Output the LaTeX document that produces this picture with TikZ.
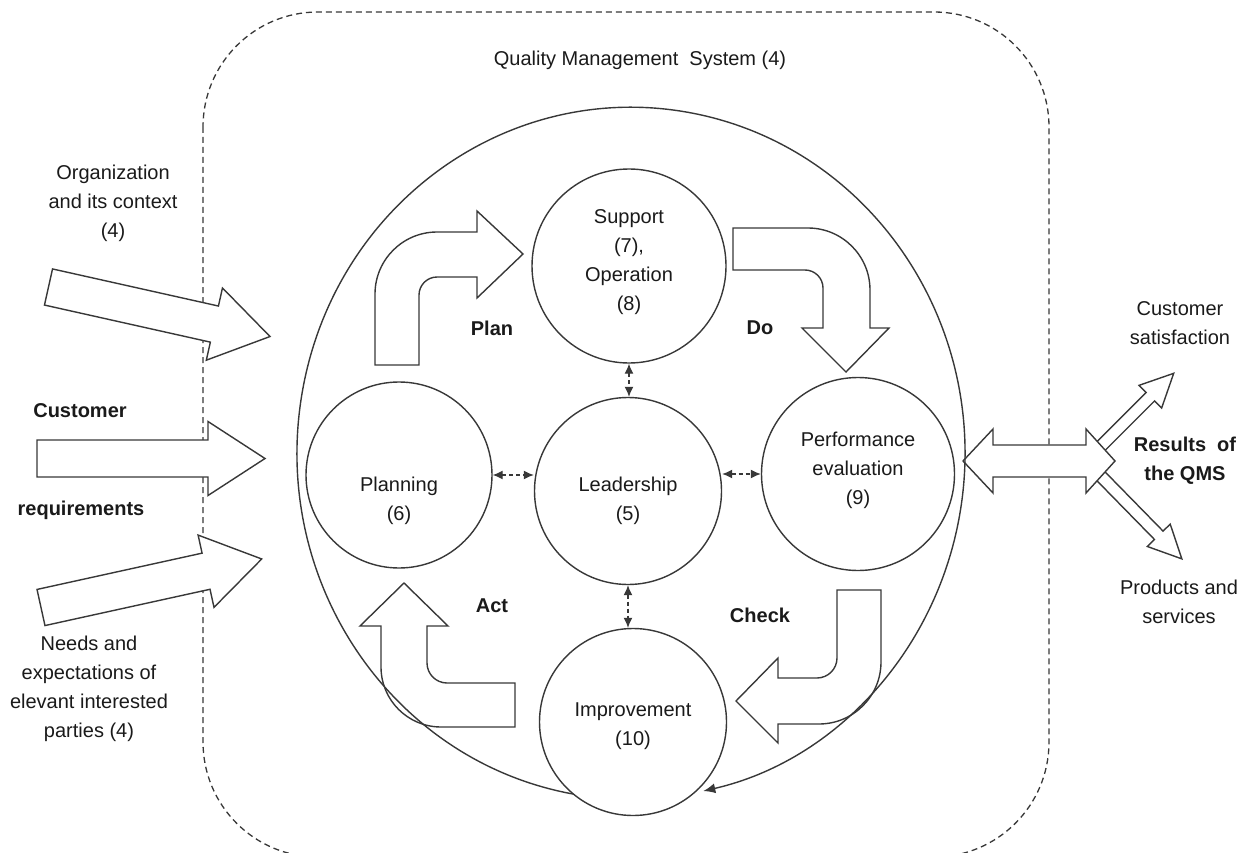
\documentclass[tikz,border=0pt]{standalone}
\usepackage{fontspec}
\setmainfont{Liberation Sans}
\usetikzlibrary{arrows.meta}
\definecolor{ln}{HTML}{383838}
\definecolor{tx}{HTML}{1A1A1A}
\begin{document}
\begin{tikzpicture}[x=1pt,y=-1pt,
  shapeline/.style={draw=ln, line width=1.4pt, line join=miter},
  filledshape/.style={shapeline, fill=white},
  qmsbox/.style={draw=ln, line width=1.3pt, dash pattern=on 6pt off 4pt, rounded corners=115pt},
  circ/.style={circle, draw=ln, line width=1.4pt, fill=white, inner sep=0pt},
  txt/.style={text=tx, font=\fontsize{20}{29}\selectfont, align=center, inner sep=0pt},
  btxt/.style={txt, font=\fontsize{20}{29}\selectfont\bfseries},
  lbl/.style={txt},
  dlink/.style={draw=ln, line width=1.2pt, dash pattern=on 4pt off 3pt,
    {Latex[length=10pt,width=9pt]}-{Latex[length=10pt,width=9pt]}},
  bigarc/.style={draw=ln, line width=1.4pt, -{Latex[length=12pt,width=10pt]}}
]
\useasboundingbox (0,0) rectangle (1247,853);

% dashed QMS boundary
\draw[qmsbox] (203,12) rectangle (1049,857);

% diagonal output arrows (drawn behind the double arrow)
\begin{scope}[shift={(1086,461)}, rotate=45]
  \draw[filledshape] (0,-6) -- (91,-6) -- (91,-16) -- (124,0) -- (91,16) -- (91,6) -- (0,6) -- cycle;
\end{scope}
\begin{scope}[shift={(1086,461)}, rotate=-45.6]
  \draw[filledshape] (0,-6) -- (104,-6) -- (104,-16) -- (137,0) -- (104,16) -- (104,6) -- (0,6) -- cycle;
\end{scope}

% double arrow (results)
\draw[filledshape] (963,461) -- (993,429) -- (993,445) -- (1086,445) -- (1086,429) -- (1115,461)
  -- (1086,493) -- (1086,477) -- (993,477) -- (993,493) -- cycle;

% input arrows
\begin{scope}[shift={(48.5,287)}, rotate=-12.6]
  \draw[filledshape] (0,-18.5) -- (170,-18.5) -- (170,-37) -- (227,0) -- (170,37) -- (170,18.5) -- (0,18.5) -- cycle;
\end{scope}
\begin{scope}[shift={(37,458.5)}]
  \draw[filledshape] (0,-18.5) -- (171,-18.5) -- (171,-37) -- (228,0) -- (171,37) -- (171,18.5) -- (0,18.5) -- cycle;
\end{scope}
\begin{scope}[shift={(41,607.5)}, rotate=12.4]
  \draw[filledshape] (0,-18.5) -- (169,-18.5) -- (169,-37) -- (226,0) -- (169,37) -- (169,18.5) -- (0,18.5) -- cycle;
\end{scope}

% big cycle
\coordinate (bigstart) at (573,794);
\draw[bigarc] (bigstart) arc[start angle=-100, end angle=-437.5, x radius=334pt, y radius=346pt];

% circles
\node[circ, minimum size=194pt, label={[lbl, yshift=4pt]center:{Support\\(7),\\Operation\\(8)}}] (support) at (629,266) {};
\node[circ, minimum size=187pt, label={[lbl, yshift=-10pt]center:{Leadership\\(5)}}] (leader) at (628,491) {};
\node[circ, minimum size=186pt, label={[lbl, yshift=-26pt]center:{Planning\\(6)}}] (planning) at (399,475) {};
\node[circ, minimum size=193pt, label={[lbl, yshift=4pt]center:{Performance\\evaluation\\(9)}}] (perf) at (858,474) {};
\node[circ, minimum size=187pt, label={[lbl, yshift=-4pt]center:{Improvement\\(10)}}] (improve) at (633,722) {};

% PDCA arrows
\draw[shapeline] (375,365) -- (375,294) .. controls (375,259.8) and (402.8,232) .. (437,232) -- (477,232)
  -- (477,211) -- (523,254) -- (477,298) -- (477,277) -- (437,277)
  .. controls (427.1,277) and (419,285.1) .. (419,295) -- (419,365) -- cycle;
\draw[shapeline] (733,228) -- (808,228) .. controls (842.2,228) and (870,255.8) .. (870,290) -- (870,328)
  -- (889,328) -- (846,372) -- (802,328) -- (823,328) -- (823,288)
  .. controls (823,278.1) and (814.9,270) .. (805,270) -- (733,270) -- cycle;
\draw[shapeline] (837,590) -- (881,590) -- (881,662) .. controls (881,696.2) and (853.2,724) .. (819,724)
  -- (778,724) -- (778,743) -- (736,701) -- (778,658) -- (778,678) -- (817,678)
  .. controls (828,678) and (837,669) .. (837,658) -- cycle;
\draw[shapeline] (404,583) -- (448,626) -- (427,626) -- (427,663) .. controls (427,674) and (436,683) .. (447,683)
  -- (515,683) -- (515,727) -- (441,727) .. controls (407.9,727) and (381,700.1) .. (381,667)
  -- (381,626) -- (360,626) -- cycle;

% dashed links
\draw[dlink] (support.south) -- (support.south |- leader.north);
\draw[dlink] (planning.east) -- (planning.east -| leader.west);
\draw[dlink] (leader.east |- perf.west) -- (perf.west);
\draw[dlink] (leader.south) -- (leader.south |- improve.north);

% texts
\node[txt] (qms) at (640,60) {Quality Management~ System (4)};
\node[txt] (org) at (113,203) {Organization\\and its context\\(4)};
\node[btxt] (cust) at (80,411) {Customer};
\node[btxt] (req) at (81,510) {requirements};
\node[txt] (needs) at (89,689) {Needs and\\expectations of\\elevant interested\\parties (4)};
\node[txt] (sat) at (1180,323) {Customer\\satisfaction};
\node[btxt] (res) at (1185,461) {Results~ of\\the QMS};
\node[txt] (prod) at (1179,602) {Products and\\services};
\node[btxt] (plan) at (492,328) {Plan};
\node[btxt] (do) at (760,328) {Do};
\node[btxt] (act) at (492,606) {Act};
\node[btxt] (check) at (760,615) {Check};
\end{tikzpicture}
\end{document}
